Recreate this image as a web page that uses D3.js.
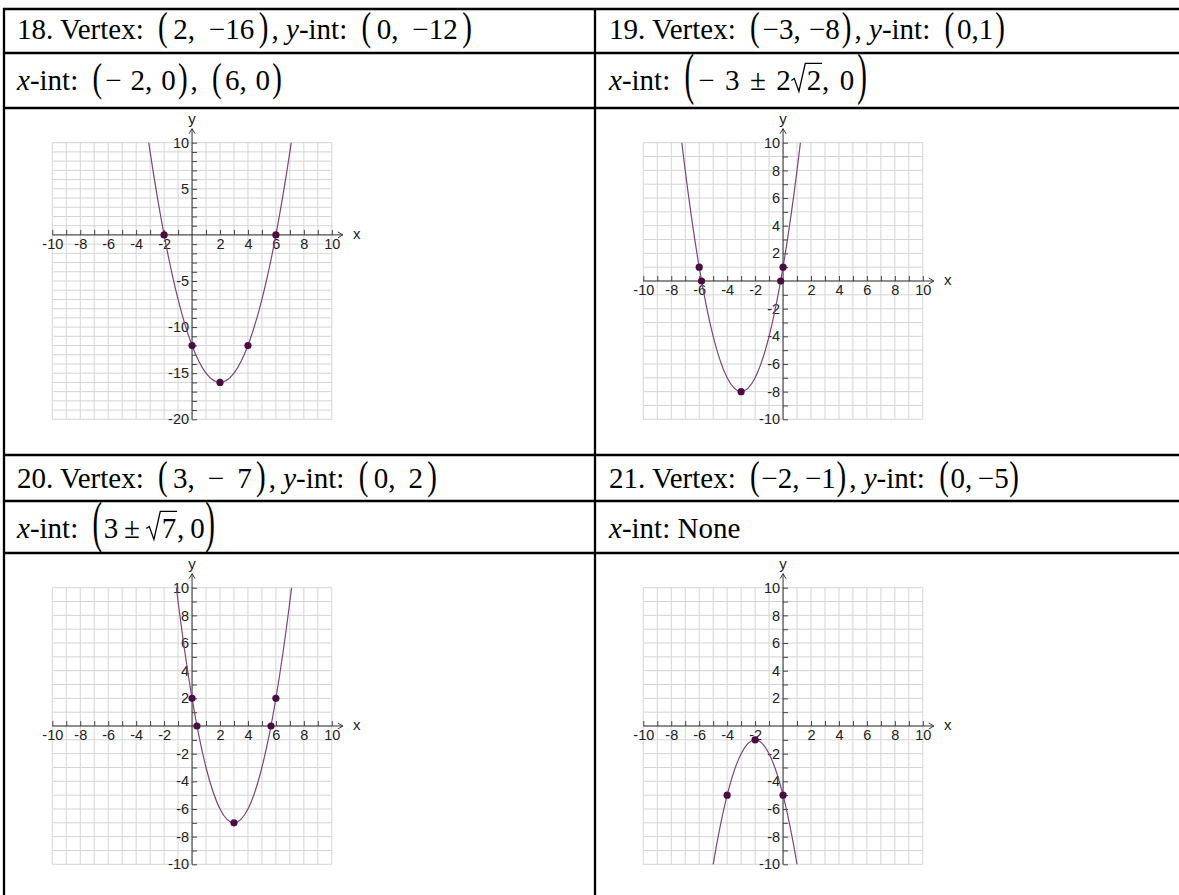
<!DOCTYPE html>
<html>
<head>
<meta charset="utf-8">
<script src="https://cdn.jsdelivr.net/npm/d3@7"></script>
<style>
  body { margin: 0; background: #fff; }
  .serif { font-family: "Liberation Serif", "Times New Roman", serif; }
</style>
</head>
<body>
<svg id="chart" width="1179" height="895"></svg>
<script>
//////////////////////////////////////////////////////////// DATA ////////////////////////////////////////////////////////////
// [ ] = tall brackets, _x_ = italic, {2} = square root
var titles = ["18. Vertex: [2, −16], _y_-int: [0, −12]",
              "19. Vertex: [−3, −8], _y_-int: [0,1]",
              "20. Vertex: [3, − 7], _y_-int: [0, 2]",
              "21. Vertex: [−2, −1], _y_-int: [0, −5]"];
var xInts = ["_x_-int: [− 2, 0], [6, 0]",
             "_x_-int: [− 3 ± 2{2}, 0]",
             "_x_-int: [3 ± {7}, 0]",
             "_x_-int: None"];

var yDomains = [[-20, 10], [-10, 10], [-10, 10], [-10, 10]];
var yLabels18 = [10, 5, -5, -10, -15, -20];
var yLabels = [10, 8, 6, 4, 2, -2, -4, -6, -8, -10];
var xLabels = [-10, -8, -6, -4, -2, 2, 4, 6, 8, 10];

// curve points
var curve18X = [-5, -4, -3, -2, -1, 0, 1, 2, 3, 4, 5, 6, 7, 8, 9];
var curve18Y = [33, 20, 9, 0, -7, -12, -15, -16, -15, -12, -7, 0, 9, 20, 33];
var curve19X = [-9, -8, -7, -6, -5, -4, -3, -2, -1, 0, 1, 2, 3];
var curve19Y = [28, 17, 8, 1, -4, -7, -8, -7, -4, 1, 8, 17, 28];
var curve20X = [-3, -2, -1, 0, 1, 2, 3, 4, 5, 6, 7, 8, 9];
var curve20Y = [29, 18, 9, 2, -3, -6, -7, -6, -3, 2, 9, 18, 29];
var curve21X = [-7, -6, -5, -4, -3, -2, -1, 0, 1, 2, 3];
var curve21Y = [-26, -17, -10, -5, -2, -1, -2, -5, -10, -17, -26];

// marked points
var dots18X = [-2, 6, 0, 4, 2];
var dots18Y = [0, 0, -12, -12, -16];
var dots19X = [-6, -5.83, -0.17, 0, -3];
var dots19Y = [1, 0, 0, 1, -8];
var dots20X = [0, 0.35, 5.65, 6, 3];
var dots20Y = [2, 0, 0, 2, -7];
var dots21X = [-4, -2, 0];
var dots21Y = [-5, -1, -5];

var curvesX = [curve18X, curve19X, curve20X, curve21X];
var curvesY = [curve18Y, curve19Y, curve20Y, curve21Y];
var dotsX = [dots18X, dots19X, dots20X, dots21X];
var dotsY = [dots18Y, dots19Y, dots20Y, dots21Y];

//////////////////////////////////////////////////////////// LAYOUT ////////////////////////////////////////////////////////////
var svg = d3.select("#chart");
svg.append("rect").attr("width", 1179).attr("height", 895).attr("fill", "#fff");

var colX = [4, 595];                 // cell left borders
var textX = [17, 609];
var hLines = [9, 53, 108, 455, 501, 553];
var titleBase = [39, 488];
var xIntBase = [90, 538];
var titleEnd = [475, 1008, 440, 1022];   // right end of each header line in the picture
var xIntEnd = [285, 870, 218, 0];
var gridLeft = [52.3, 643.3];
var gridTop = [142.7, 587.7];
var gridW = 279.5, gridH = 276.6;
var fontSize = 29;
var sans = "'Liberation Sans', Arial, sans-serif";

// table rules
svg.selectAll("line.h").data(hLines).enter().append("line")
  .attr("x1", 3).attr("x2", 1179).attr("y1", d => d).attr("y2", d => d)
  .attr("stroke", "#000").attr("stroke-width", 2.3);
svg.selectAll("line.v").data(colX).enter().append("line")
  .attr("x1", d => d).attr("x2", d => d).attr("y1", 8).attr("y2", 895)
  .attr("stroke", "#000").attr("stroke-width", 2.3);

//////////////////////////////////////////////////////////// RICH TEXT ////////////////////////////////////////////////////////////
function parse(str) {
  var segs = [], cur = "", it = false, inMath = false;
  function flush() { if (cur) segs.push({t: cur, it: it, math: inMath}); cur = ""; }
  for (var i = 0; i < str.length; i++) {
    var c = str[i];
    if (c == "_") { flush(); it = !it; }
    else if (c == "[" || c == "]") {
      flush();
      segs.push({paren: c == "[" ? "(" : ")"});
      inMath = c == "[";
    }
    else if (c == "{") { flush(); var j = str.indexOf("}", i); segs.push({sqrt: str.slice(i + 1, j)}); i = j; }
    else if (c == " " && inMath) { flush(); segs.push({space: true}); }
    else cur += c;
  }
  flush();
  return segs;
}

// gap = extra room given to every space and paren side inside the math
function richText(str, x, y, size, parenK, parenC, gap) {
  var g = svg.append("g").attr("class", "serif");
  var cx = x, slots = 0;
  parse(str).forEach(function(s) {
    if (s.paren) {
      if (s.paren == "(") cx += 7; else cx += gap / 2;
      var lc = -0.255 * size, tc = parenC * size;
      var t = g.append("text").text(s.paren)
        .attr("font-size", size)
        .attr("transform", "translate(" + cx + "," + (y + tc - parenK * lc) + ") scale(1," + parenK + ")");
      cx += t.node().getComputedTextLength() + (s.paren == "(" ? 1 + gap / 2 : 3);
      slots += 0.5;
    } else if (s.space) {
      cx += 0.25 * size * 0.6 + gap;
      slots += 1;
    } else if (s.sqrt) {
      var t2 = g.append("text").text(s.sqrt).attr("font-size", size)
        .attr("x", cx + 0.55 * size).attr("y", y);
      var w = t2.node().getComputedTextLength();
      var p = d3.path();
      p.moveTo(cx + 0.02 * size, y - 0.33 * size);
      p.lineTo(cx + 0.12 * size, y - 0.40 * size);
      p.lineTo(cx + 0.28 * size, y + 0.05 * size);
      p.lineTo(cx + 0.50 * size, y - 0.92 * size);
      p.lineTo(cx + 0.58 * size + w, y - 0.92 * size);
      g.append("path").attr("d", p.toString()).attr("fill", "none")
        .attr("stroke", "#000").attr("stroke-width", 1.3);
      cx += 0.58 * size + w;
    } else {
      var t3 = g.append("text").text(s.t).attr("font-size", size)
        .attr("x", cx).attr("y", y)
        .style("white-space", "pre")
        .attr("font-style", s.it ? "italic" : "normal");
      cx += t3.node().getComputedTextLength();
    }
  });
  return {g: g, end: cx, n: slots};
}

// lay out once, then widen the math to the width it has in the picture
function header(str, x, y, k, c, target) {
  var r = richText(str, x, y, fontSize, k, c, 0);
  if (!target || !r.n) return;
  var gap = Math.max(0, (target - r.end) / r.n);
  r.g.remove();
  richText(str, x, y, fontSize, k, c, gap);
}

titles.forEach(function(s, i) {
  header(s, textX[i % 2], titleBase[Math.floor(i / 2)], 1.35, -0.3, titleEnd[i]);
});
xInts.forEach(function(s, i) {
  var tall = s.indexOf("{") >= 0;
  header(s, textX[i % 2], xIntBase[Math.floor(i / 2)], tall ? 1.95 : 1.35, tall ? -0.4 : -0.3, xIntEnd[i]);
});

//////////////////////////////////////////////////////////// GRAPHS ////////////////////////////////////////////////////////////
function labelStyle(sel) {
  sel.selectAll("text")
    .style("font-family", sans).style("font-size", "14.5px").attr("fill", "#222");
}

titles.forEach(function(_, i) {
  var gx = gridLeft[i % 2], gy = gridTop[Math.floor(i / 2)];
  var x = d3.scaleLinear().domain([-10, 10]).range([gx, gx + gridW]);
  var y = d3.scaleLinear().domain(yDomains[i]).range([gy + gridH, gy]);
  var g = svg.append("g");

  // grid
  g.selectAll("line.gx").data(d3.range(-10, 11)).enter().append("line")
    .attr("x1", d => x(d)).attr("x2", d => x(d)).attr("y1", gy).attr("y2", gy + gridH)
    .attr("stroke", "#d4d4d4").attr("stroke-width", 1);
  g.selectAll("line.gy").data(d3.range(yDomains[i][0], yDomains[i][1] + 1)).enter().append("line")
    .attr("x1", gx).attr("x2", gx + gridW).attr("y1", d => y(d)).attr("y2", d => y(d))
    .attr("stroke", "#d4d4d4").attr("stroke-width", 1);

  var x0 = x(0), y0 = y(0);
  var allX = d3.range(-10, 11).filter(d => d != 0);
  var allY = d3.range(yDomains[i][0], yDomains[i][1] + 1).filter(d => d != 0);

  // x axis: ticks above, labels below
  g.append("g").attr("transform", "translate(0," + y0 + ")")
    .call(d3.axisTop(x).tickValues(allX).tickSize(5).tickFormat(""))
    .call(a => a.select(".domain").remove())
    .selectAll("line").attr("stroke", "#444");
  g.append("g").attr("transform", "translate(0," + y0 + ")")
    .call(d3.axisBottom(x).tickValues(xLabels).tickSize(0).tickPadding(4).tickFormat(d => String(d)))
    .call(a => a.select(".domain").remove())
    .call(labelStyle);

  // y axis: ticks right, labels left
  g.append("g").attr("transform", "translate(" + x0 + ",0)")
    .call(d3.axisRight(y).tickValues(allY).tickSize(5).tickFormat(""))
    .call(a => a.select(".domain").remove())
    .selectAll("line").attr("stroke", "#444");
  g.append("g").attr("transform", "translate(" + x0 + ",0)")
    .call(d3.axisLeft(y).tickValues(i == 0 ? yLabels18 : yLabels).tickSize(0).tickPadding(3).tickFormat(d => String(d)))
    .call(a => a.select(".domain").remove())
    .call(labelStyle);

  // axis lines with open arrows
  var xEnd = gx + gridW + 11, yEnd = gy - 14;
  g.append("line").attr("x1", gx).attr("x2", xEnd).attr("y1", y0).attr("y2", y0)
    .attr("stroke", "#333").attr("stroke-width", 1);
  g.append("path").attr("d", "M" + (xEnd - 5) + "," + (y0 - 3) + "L" + xEnd + "," + y0 + "L" + (xEnd - 5) + "," + (y0 + 3))
    .attr("fill", "none").attr("stroke", "#333");
  g.append("line").attr("x1", x0).attr("x2", x0).attr("y1", gy + gridH).attr("y2", yEnd)
    .attr("stroke", "#333").attr("stroke-width", 1);
  g.append("path").attr("d", "M" + (x0 - 3) + "," + (yEnd + 5) + "L" + x0 + "," + yEnd + "L" + (x0 + 3) + "," + (yEnd + 5))
    .attr("fill", "none").attr("stroke", "#333");
  g.append("text").text("x").attr("x", xEnd + 14).attr("y", y0 + 4).attr("text-anchor", "middle")
    .style("font-family", sans).style("font-size", "15px").attr("fill", "#222");
  g.append("text").text("y").attr("x", x0).attr("y", yEnd - 5).attr("text-anchor", "middle")
    .style("font-family", sans).style("font-size", "15px").attr("fill", "#222");

  // curve, clipped to the grid
  var clipId = "clip" + i;
  svg.append("clipPath").attr("id", clipId).append("rect")
    .attr("x", gx).attr("y", gy).attr("width", gridW).attr("height", gridH);
  var pts = curvesX[i].map((cxv, k) => [cxv, curvesY[i][k]]);
  var line = d3.line().x(d => x(d[0])).y(d => y(d[1])).curve(d3.curveCatmullRom.alpha(0));
  g.append("path").attr("d", line(pts)).attr("clip-path", "url(#" + clipId + ")")
    .attr("fill", "none").attr("stroke", "#7d457d").attr("stroke-width", 1.2);

  // dots
  g.selectAll("circle").data(dotsX[i].map((dx, k) => [dx, dotsY[i][k]])).enter().append("circle")
    .attr("cx", d => x(d[0])).attr("cy", d => y(d[1])).attr("r", 3.6)
    .attr("fill", "#4a0a42");
});
</script>
</body>
</html>
